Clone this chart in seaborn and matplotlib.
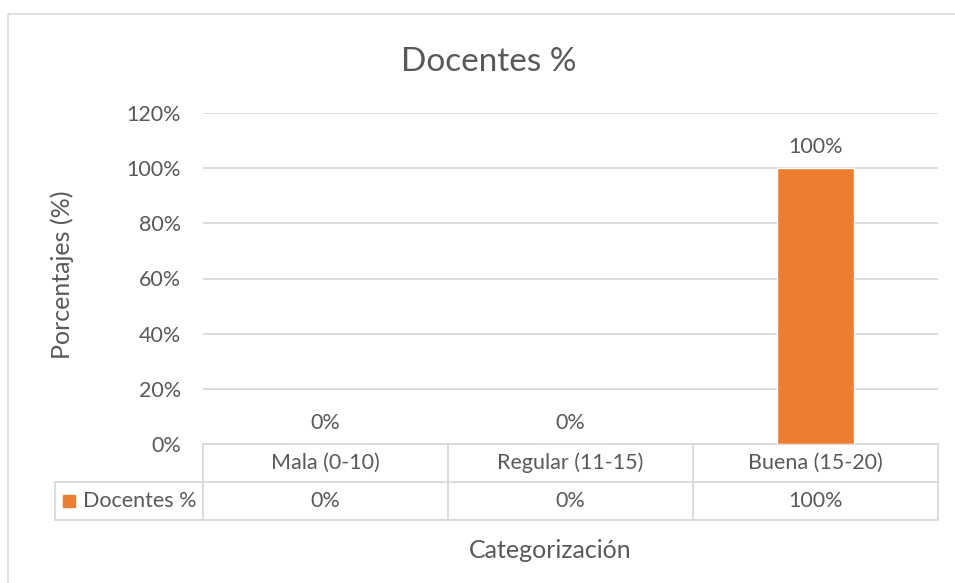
import matplotlib
matplotlib.use("Agg")
import matplotlib.pyplot as plt
import seaborn as sns
from matplotlib.patches import Rectangle

categories = ["Mala (0-10)", "Regular (11-15)", "Buena (15-20)"]
docentes_pct = [0, 0, 100]
series_name = "Docentes %"
y_ticks = [0, 20, 40, 60, 80, 100, 120]

TEXT = "#595959"
GRID = "#D9D9D9"
ORANGE = "#ED7D31"
W, H = 955, 583
FS = 15.5

sns.set_theme(style="white")
plt.rcParams["font.family"] = ["Lato", "DejaVu Sans"]


def fx(x):
    return x / W


def fy(y):
    return 1 - y / H


fig = plt.figure(figsize=(W / 100, H / 100), dpi=100)
fig.patch.set_facecolor("white")

# chart border (clipped by the image on the right/bottom)
fig.patches.append(Rectangle((fx(8), fy(H + 20)), 1.2, fy(14) - fy(H + 20),
                             transform=fig.transFigure, fill=False,
                             edgecolor=GRID, lw=1.2))

ax = fig.add_axes([fx(203), fy(444), fx(938) - fx(203), fy(113) - fy(444)])
sns.barplot(x=categories, y=docentes_pct, color=ORANGE, width=0.315,
            saturation=1, ax=ax, zorder=3)
ax.set_xlim(-0.5, len(categories) - 0.5)
ax.set_ylim(0, 120)
ax.set_yticks(y_ticks)
ax.set_yticklabels([f"{t}%" for t in y_ticks], color=TEXT, fontsize=FS)
ax.tick_params(axis="y", length=0, pad=16)
ax.set_xticks([])
ax.set_xlabel("")
ax.set_ylabel("")
ax.yaxis.grid(True, color=GRID, lw=1.3, zorder=0)
for s in ax.spines.values():
    s.set_visible(False)

ax.bar_label(ax.containers[0], labels=[f"{v}%" for v in docentes_pct],
             padding=8, color=TEXT, fontsize=FS)

# data table below the plot
tr = ax.get_xaxis_transform()
r1, r2 = -38 / 331, -76 / 331
leg_left = (55 - 203) / 735
n = len(categories)
kw = dict(color=GRID, lw=1.3, clip_on=False, transform=tr)
ax.plot([-0.5, n - 0.5], [0, 0], **kw)
ax.plot([-0.5, n - 0.5], [r1, r1], **kw)
ax.plot([-0.5, n - 0.5], [r2, r2], **kw)
for b in range(n + 1):
    ax.plot([b - 0.5, b - 0.5], [0, r2], **kw)
axes_tr = ax.transAxes
ax.plot([leg_left, 0], [r1, r1], color=GRID, lw=1.3, clip_on=False, transform=axes_tr)
ax.plot([leg_left, 0], [r2, r2], color=GRID, lw=1.3, clip_on=False, transform=axes_tr)
ax.plot([leg_left, leg_left], [r1, r2], color=GRID, lw=1.3, clip_on=False, transform=axes_tr)

for i, (cat, v) in enumerate(zip(categories, docentes_pct)):
    ax.text(i, r1 / 2, cat, transform=tr, ha="center", va="center",
            color=TEXT, fontsize=FS)
    ax.text(i, (r1 + r2) / 2, f"{v}%", transform=tr, ha="center", va="center",
            color=TEXT, fontsize=FS)

fig.patches.append(Rectangle((fx(63), fy(507)), fx(12), fy(495) - fy(507),
                             transform=fig.transFigure, color=ORANGE))
fig.text(fx(83), fy(501), series_name, ha="left", va="center",
         color=TEXT, fontsize=FS)

fig.text(fx(489), fy(62), "Docentes %", ha="center", va="center",
         color=TEXT, fontsize=24)
fig.text(fx(62), fy(275), "Porcentajes (%)", ha="center", va="center",
         rotation=90, color=TEXT, fontsize=18)
fig.text(fx(550), fy(550), "Categorización", ha="center", va="center",
         color=TEXT, fontsize=18)

fig.savefig("out.png", dpi=100)
